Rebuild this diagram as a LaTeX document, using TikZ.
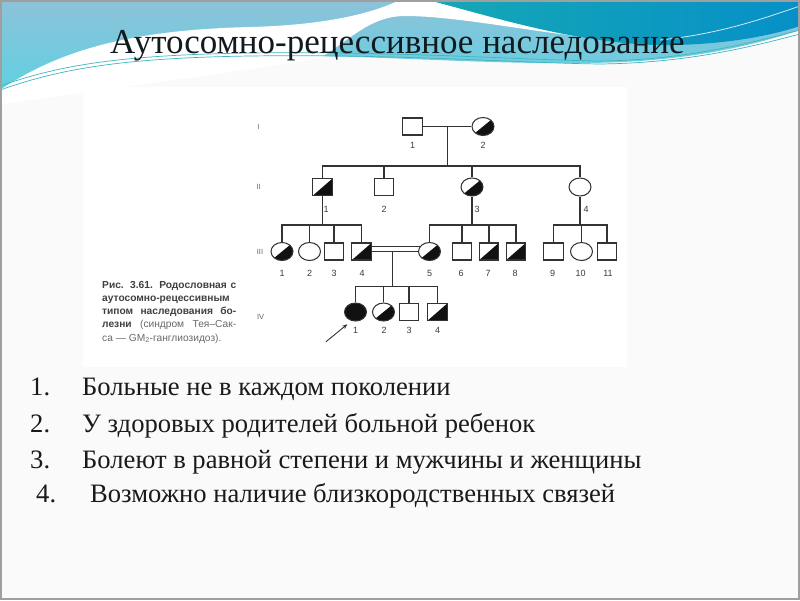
\documentclass[tikz,border=0pt]{standalone}
\usepackage{fontspec}
\setmainfont{Liberation Serif}
\newfontfamily\capfont{Liberation Sans}
\usetikzlibrary{shapes.geometric,calc,arrows.meta}
\definecolor{slidebg}{HTML}{FAFAFA}
\definecolor{lbtop}{HTML}{8DC2D9}
\definecolor{lbbot}{HTML}{5ED1E2}
\definecolor{tealA}{HTML}{16A8B4}
\definecolor{tealB}{HTML}{0690C8}
\definecolor{tline}{HTML}{3FB6BE}
\definecolor{titlecol}{HTML}{111A1E}
\definecolor{pedline}{HTML}{333333}
\definecolor{pedfill}{HTML}{111111}
\definecolor{pedtext}{HTML}{3A3A3A}
\definecolor{capdark}{HTML}{404040}
\definecolor{caplight}{HTML}{6A6A6A}
\definecolor{listcol}{HTML}{1A1A1A}
\tikzset{
  pline/.style={draw=pedline, line width=1.05pt},
  male/.style={rectangle, draw=pedline, line width=1.05pt, fill=white, minimum width=19.5pt, minimum height=17pt, inner sep=0pt},
  female/.style={ellipse, draw=pedline, line width=1.05pt, fill=white, minimum width=22pt, minimum height=18pt, inner sep=0pt},
  carrier/.style={path picture={\fill[pedfill] (path picture bounding box.south west) -- (path picture bounding box.north east) -- (path picture bounding box.south east) -- cycle;}},
  affected/.style={fill=pedfill},
  plabel/.style={font=\capfont\fontsize{9}{10}\selectfont, text=pedtext, inner sep=0pt},
  genlbl/.style={font=\capfont\fontsize{7.5}{8}\selectfont, text=gray!80!black, inner sep=0pt},
  capline/.style={font=\capfont\fontsize{10.2}{12}\selectfont, text=caplight, inner sep=0pt, anchor=base west},
  itemtxt/.style={font=\fontsize{26.6}{30}\selectfont, text=listcol, inner sep=0pt, anchor=base west},
}
\begin{document}
\begin{tikzpicture}[x=1pt,y=-1pt]
\useasboundingbox (0,0) rectangle (800,600);
\fill[slidebg] (0,0) rectangle (800,600);
% top wave decoration
\shade[top color=lbtop, bottom color=lbbot] (0,0) -- (800,0) -- (800,30)
  .. controls (740,50) and (670,63) .. (580,63)
  .. controls (480,64) and (380,56) .. (300,56)
  .. controls (200,56) and (80,70) .. (0,95) -- cycle;
\fill[white] (0,90) .. controls (60,50) and (130,30) .. (250,27)
  .. controls (330,25) and (375,12) .. (400,0) -- (430,0)
  .. controls (470,12) and (540,28) .. (615,40)
  .. controls (540,34) and (460,16) .. (405,16)
  .. controls (370,16) and (350,40) .. (320,58)
  .. controls (220,75) and (60,95) .. (0,105) -- cycle;
\shade[left color=tealA, right color=tealB] (428,0) -- (800,0) -- (800,26)
  .. controls (770,36) and (720,46) .. (655,45)
  .. controls (570,42) and (490,16) .. (428,0) -- cycle;
\draw[white, line width=0.8pt, opacity=0.8] (660,40) .. controls (720,34) and (765,18) .. (800,6);
\draw[tline, line width=0.7pt] (0,86) .. controls (60,65) and (120,55) .. (250,53)
  .. controls (400,51) and (520,60) .. (600,61) .. controls (680,60) and (740,46) .. (800,30);
\draw[tline, line width=0.7pt] (0,90) .. controls (60,69) and (120,58) .. (250,56)
  .. controls (400,54) and (520,63) .. (600,64) .. controls (680,63) and (740,50) .. (800,34);
% frame
\draw[gray!75, line width=2pt] (1,1) rectangle (799,599);
% title
\node[anchor=base west, inner sep=0pt, font=\fontsize{35}{40}\selectfont, text=titlecol] (title) at (110,53) {Аутосомно-рецессивное наследование};
% pedigree picture area
\fill[white] (83,87) rectangle (627,367);
% caption
\node[capline] (c1) at (102,288.5) {\makebox[134pt][s]{\color{capdark}\bfseries Рис. 3.61. Родословная с}};
\node[capline] (c2) at (102,301.5) {\color{capdark}\bfseries аутосомно-рецессивным};
\node[capline] (c3) at (102,314.5) {\makebox[134pt][s]{\color{capdark}\bfseries типом наследования бо-}};
\node[capline] (c4) at (102,327.5) {\makebox[134pt][s]{{\color{capdark}\bfseries лезни} (синдром Тея–Сак-}};
\node[capline] (c5) at (102,341) {са — GM\textsubscript{2}-ганглиозидоз).};
% generation numerals
\node[genlbl] (gI) at (258.3,126.5) {I};
\node[genlbl] (gII) at (258.7,187) {II};
\node[genlbl] (gIII) at (260,251.5) {III};
\node[genlbl] (gIV) at (260.7,316.7) {IV};
% generation I
\node[male] (I1) at (412.7,126.5) {};
\node[female, carrier] (I2) at (483,126.5) {};
% generation II
\node[male, carrier] (II1) at (322.7,187) {};
\node[male] (II2) at (384,187) {};
\node[female, carrier] (II3) at (472,187) {};
\node[female] (II4) at (580,187) {};
% generation III
\node[female, carrier] (III1) at (282,251.5) {};
\node[female] (III2) at (309.5,251.5) {};
\node[male] (III3) at (334,251.5) {};
\node[male, carrier] (III4) at (361.7,251.5) {};
\node[female, carrier] (III5) at (429.5,251.5) {};
\node[male] (III6) at (462,251.5) {};
\node[male, carrier] (III7) at (489,251.5) {};
\node[male, carrier] (III8) at (516,251.5) {};
\node[male] (III9) at (553.7,251.5) {};
\node[female] (III10) at (581.5,251.5) {};
\node[male] (III11) at (607,251.5) {};
% generation IV
\node[female, affected] (IV1) at (355.5,312) {};
\node[female, carrier] (IV2) at (383.5,312) {};
\node[male] (IV3) at (409,312) {};
\node[male, carrier] (IV4) at (437.5,312) {};
% lines
\coordinate (s2) at (448,166);
\coordinate (s3) at (0,225);
\coordinate (s4) at (0,286.7);
\coordinate (m1) at ($(I1.east)!0.5!(I2.west)$);
\draw[pline] (I1.east) -- (I2.west);
\draw[pline] (m1) -- (m1 |- s2);
\draw[pline] (II1.north) -- (II1.north |- s2) -- (II4.north |- s2) -- (II4.north);
\draw[pline] (II2.north) -- (II2.north |- s2);
\draw[pline] (II3.north) -- (II3.north |- s2);
\draw[pline] (II1.south) -- (II1.south |- s3);
\draw[pline] (III1.north) -- (III1.north |- s3) -- (III4.north |- s3) -- (III4.north);
\draw[pline] (III2.north) -- (III2.north |- s3);
\draw[pline] (III3.north) -- (III3.north |- s3);
\draw[pline] (II3.south) -- (II3.south |- s3);
\draw[pline] (III5.north) -- (III5.north |- s3) -- (III8.north |- s3) -- (III8.north);
\draw[pline] (III6.north) -- (III6.north |- s3);
\draw[pline] (III7.north) -- (III7.north |- s3);
\draw[pline] (II4.south) -- (II4.south |- s3);
\draw[pline] (III9.north) -- (III9.north |- s3) -- (III11.north |- s3) -- (III11.north);
\draw[pline] (III10.north) -- (III10.north |- s3);
% consanguineous marriage
\draw[pline] (III4.east) -- (III5.west);
\draw[pline] (III4.east |- III5.150) -- (III5.150);
\coordinate (m3) at ($(III4.east)!0.45!(III5.west)$);
\draw[pline] (m3) -- (m3 |- s4);
\draw[pline] (IV1.north) -- (IV1.north |- s4) -- (IV4.north |- s4) -- (IV4.north);
\draw[pline] (IV2.north) -- (IV2.north |- s4);
\draw[pline] (IV3.north) -- (IV3.north |- s4);
% proband arrow
\coordinate (arrtail) at (326,341.7);
\coordinate (arrtip) at (347.3,324.3);
\draw[draw=pedline, line width=0.9pt, -{Stealth[length=5pt,width=4pt]}] (arrtail) -- (arrtip);
% labels
\node[plabel] at ($(I1)+(0,18.5)$) {1};
\node[plabel] at ($(I2)+(0,18.5)$) {2};
\node[plabel] at ($(II1)+(3.5,22)$) {1};
\node[plabel] at ($(II2)+(0,22)$) {2};
\node[plabel] at ($(II3)+(5,22)$) {3};
\node[plabel] at ($(II4)+(6,22)$) {4};
\node[plabel] at ($(III1)+(0,22)$) {1};
\node[plabel] at ($(III2)+(0,22)$) {2};
\node[plabel] at ($(III3)+(0,22)$) {3};
\node[plabel] at ($(III4)+(0.5,22)$) {4};
\node[plabel] at ($(III5)+(0,22)$) {5};
\node[plabel] at ($(III6)+(-1,22)$) {6};
\node[plabel] at ($(III7)+(-1,22)$) {7};
\node[plabel] at ($(III8)+(-1,22)$) {8};
\node[plabel] at ($(III9)+(-1,22)$) {9};
\node[plabel] at ($(III10)+(-1,22)$) {10};
\node[plabel] at ($(III11)+(1,22)$) {11};
\node[plabel] at ($(IV1)+(0,18)$) {1};
\node[plabel] at ($(IV2)+(0.5,18)$) {2};
\node[plabel] at ($(IV3)+(0,18)$) {3};
\node[plabel] at ($(IV4)+(0,18)$) {4};
% list
\node[itemtxt] (n1) at (30,395) {1.};
\node[itemtxt] (t1) at (82,395) {Больные не в каждом поколении};
\node[itemtxt] (n2) at (30,432) {2.};
\node[itemtxt] (t2) at (82,432) {У здоровых родителей больной ребенок};
\node[itemtxt] (n3) at (30,468) {3.};
\node[itemtxt] (t3) at (82,468) {Болеют в равной степени и мужчины и женщины};
\node[itemtxt] (n4) at (36,502) {4.};
\node[itemtxt] (t4) at (90,502) {Возможно наличие близкородственных связей};
\end{tikzpicture}
\end{document}
